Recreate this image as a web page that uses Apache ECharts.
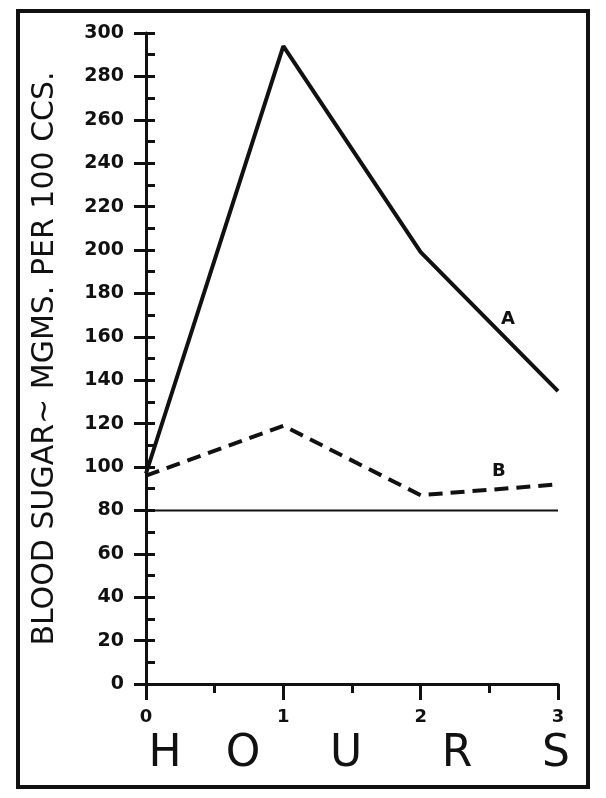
<!DOCTYPE html>
<html><head><meta charset="utf-8">
<script src="https://cdn.jsdelivr.net/npm/echarts@6/dist/echarts.min.js"></script>
<style>html,body{margin:0;padding:0;background:#fff}#c{width:606px;height:798px}</style>
</head><body><div id="c"></div>
<script>
const hours = [0, 1, 2, 3];
const curveA = [97, 294, 199, 135];
const curveB = [96, 119, 87, 92];
const baseline = [80, 80];
const baselineHours = [0, 3];
const yTitle = 'BLOOD SUGAR∼ MGMS. PER 100 CCS.';
const xLetters = ['H', 'O', 'U', 'R', 'S'];

const chart = echarts.init(document.getElementById('c'));
const font = '"DejaVu Sans", sans-serif';
const ink = '#111';
const pts = (xs, ys) => xs.map((x, i) => [x, ys[i]]);

const letterX = [165, 243, 346, 457, 556];
chart.setOption({
  animation: false,
  backgroundColor: '#fff',
  grid: { left: 146, right: 48, top: 33, bottom: 114 },
  xAxis: {
    type: 'value', min: 0, max: 3, interval: 1,
    axisLine: { lineStyle: { color: ink, width: 3 } },
    axisTick: { length: 16, lineStyle: { color: ink, width: 3 } },
    minorTick: { show: true, splitNumber: 2, length: 9, lineStyle: { color: ink, width: 3 } },
    splitLine: { show: false },
    axisLabel: { color: ink, fontFamily: font, fontWeight: 'bold', fontSize: 18, margin: 24 }
  },
  yAxis: [{
    type: 'value', min: 0, max: 300, interval: 20,
    axisLine: { show: true, lineStyle: { color: ink, width: 3 } },
    axisTick: { show: true, length: 12, lineStyle: { color: ink, width: 3 } },
    splitLine: { show: false },
    axisLabel: { color: ink, fontFamily: font, fontWeight: 'bold', fontSize: 19, margin: 22 },
    name: yTitle, nameLocation: 'middle', nameGap: 86, nameRotate: 90,
    nameTextStyle: { color: ink, fontFamily: font, fontSize: 30 }
  }, {
    type: 'value', min: 0, max: 300, interval: 10, position: 'left',
    axisLine: { show: false },
    axisTick: { show: true, inside: true, length: 9, lineStyle: { color: ink, width: 3 } },
    axisLabel: { show: false }, splitLine: { show: false }
  }],
  series: [
    { type: 'line', data: pts(hours, curveA), symbol: 'none',
      lineStyle: { color: ink, width: 4 } },
    { type: 'line', data: pts(hours, curveB), symbol: 'none',
      lineStyle: { color: ink, width: 4, type: [14, 8] } },
    { type: 'line', data: pts(baselineHours, baseline), symbol: 'none',
      lineStyle: { color: ink, width: 2 } }
  ],
  graphic: [
    { type: 'rect', shape: { x: 18, y: 11, width: 570, height: 776 },
      style: { fill: 'none', stroke: ink, lineWidth: 4 } },
    { type: 'text', x: 501, y: 310, style: { text: 'A', font: 'bold 18px ' + font, fill: ink } },
    { type: 'text', x: 492, y: 462, style: { text: 'B', font: 'bold 18px ' + font, fill: ink } }
  ].concat(xLetters.map((l, i) => ({
    type: 'text', x: letterX[i], y: 755,
    style: { text: l, font: '44px ' + font, fill: ink, textAlign: 'center', textVerticalAlign: 'middle' }
  })))
});
</script></body></html>
